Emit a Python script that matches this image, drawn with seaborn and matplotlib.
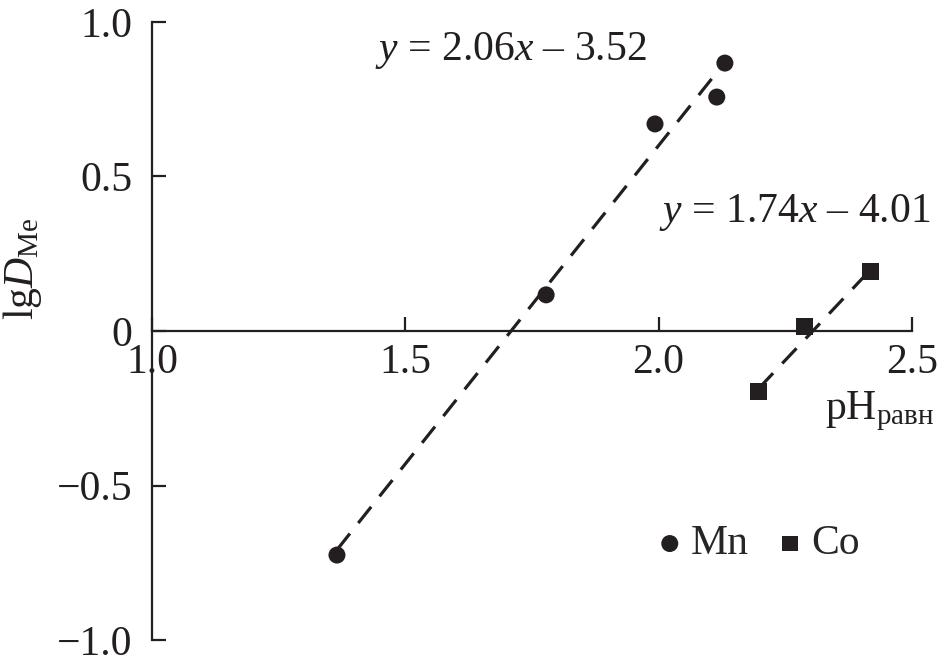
import numpy as np
import pandas as pd
import matplotlib
matplotlib.use("Agg")
import matplotlib.pyplot as plt
import seaborn as sns

# data
mn_ph = [1.365, 1.778, 1.993, 2.115, 2.131]
mn_lgd = [-0.725, 0.117, 0.670, 0.757, 0.867]
co_ph = [2.198, 2.289, 2.419]
co_lgd = [-0.197, 0.013, 0.194]

# fitted lines (as printed on the chart)
mn_fit = (2.06, -3.52)
co_fit = (1.74, -4.01)

xticks = [1.0, 1.5, 2.0, 2.5]
xticklabels = ["1.0", "1.5", "2.0", "2.5"]
yticks = [-1.0, -0.5, 0.0, 0.5, 1.0]
yticklabels = ["\u22121.0", "\u22120.5", "0", "0.5", "1.0"]

df = pd.DataFrame({
    "pH": mn_ph + co_ph,
    "lgD": mn_lgd + co_lgd,
    "Me": ["Mn"] * len(mn_ph) + ["Co"] * len(co_ph),
})

FS = 30
INK = "#231f20"

sns.set_style("white")
plt.rcParams["font.family"] = ["Liberation Serif", "DejaVu Serif"]
plt.rcParams["mathtext.fontset"] = "custom"
plt.rcParams["mathtext.rm"] = "Liberation Serif"
plt.rcParams["mathtext.it"] = "Liberation Serif:italic"

fig = plt.figure(figsize=(9.39, 6.66), dpi=100)
ax = fig.add_axes([0.162, 0.039, 0.809, 0.928])

# dashed regression lines over each data range
for ph, (k, b) in [(mn_ph, mn_fit), (co_ph, co_fit)]:
    xs = np.array([min(ph), max(ph)])
    sns.lineplot(x=xs, y=k * xs + b, ax=ax, color=INK, lw=2.3,
                 linestyle=(0, (6.5, 4.2)), zorder=2)

sns.scatterplot(data=df, x="pH", y="lgD", style="Me", markers={"Mn": "o", "Co": "s"},
                color=INK, s=150, edgecolor="none", ax=ax, zorder=3, legend=False)

# legend
h1 = ax.scatter([], [], marker="o", s=150, color=INK, edgecolor="none")
h2 = ax.scatter([], [], marker="s", s=130, color=INK, edgecolor="none")
ax.legend([h1, h2], ["Mn", "Co"], loc="center", bbox_to_anchor=(0.79, 0.155),
          frameon=False, ncol=2, fontsize=FS, handletextpad=-0.1, columnspacing=0.4,
          borderaxespad=0, handlelength=1.2)

ax.set_xlim(1.0, 2.5)
ax.set_ylim(-1.0, 1.0)
ax.spines["left"].set_position(("data", 1.0))
ax.spines["bottom"].set_position(("data", 0.0))
ax.spines["top"].set_visible(False)
ax.spines["right"].set_visible(False)
for s in ["left", "bottom"]:
    ax.spines[s].set_linewidth(1.6)
    ax.spines[s].set_color(INK)

ax.set_xticks(xticks)
ax.set_xticklabels(xticklabels)
ax.set_yticks(yticks)
ax.set_yticklabels(yticklabels)
ax.tick_params(axis="both", direction="in", length=10, width=1.6, color=INK,
               labelsize=FS, labelcolor=INK, bottom=True, left=True)
ax.tick_params(axis="x", pad=9)
ax.tick_params(axis="y", pad=14)

ax.set_xlabel("")
ax.set_ylabel(r"lg$\mathit{D}_{\mathrm{Me}}$", fontsize=FS, color=INK)
ax.yaxis.set_label_coords(-0.142, 0.6)

dash = "\u2013"
ax.text(2.545, -0.26, r"pH$_{\mathrm{равн}}$", fontsize=FS, ha="right", va="center",
        color=INK)
ax.text(1.44, 0.909, r"$\mathit{y}$ = 2.06$\mathit{x}$ " + dash + " 3.52",
        fontsize=FS, ha="left", va="center", color=INK)
ax.text(2.0, 0.382, r"$\mathit{y}$ = 1.74$\mathit{x}$ " + dash + " 4.01",
        fontsize=FS, ha="left", va="center", color=INK)

fig.savefig("out.png", dpi=100)
